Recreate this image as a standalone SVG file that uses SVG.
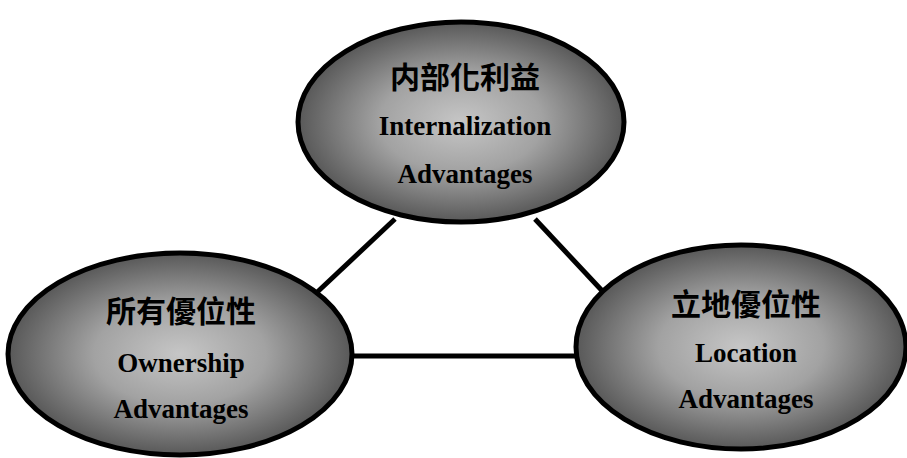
<svg xmlns="http://www.w3.org/2000/svg" width="907" height="458" viewBox="0 0 907 458">
  <style>
    .node ellipse { fill: url(#shade); stroke: #000; stroke-width: 5; }
    .zh { font-family: "Noto Sans CJK TC", "Noto Sans CJK SC", sans-serif; font-weight: bold; font-size: 30px; fill: #000; text-anchor: middle; }
    .en { font-family: "Times New Roman", Times, "Liberation Serif", Tinos, "DejaVu Serif", serif; font-weight: bold; font-size: 27px; fill: #000; text-anchor: middle; }
    .link line { stroke: #000; stroke-width: 5; }
  </style>
  <defs>
    <radialGradient id="shade" cx="0.5" cy="0.5" r="0.5">
      <stop offset="0" stop-color="#c6c6c6"/>
      <stop offset="0.5" stop-color="#a2a2a2"/>
      <stop offset="1" stop-color="#585858"/>
    </radialGradient>
  </defs>
  <rect width="907" height="458" fill="#fff"/>

  <g class="link" id="connectors">
    <line x1="395" y1="219" x2="312" y2="297"/>
    <line x1="535" y1="219" x2="607" y2="296"/>
    <line x1="352" y1="356" x2="577" y2="356"/>
  </g>

  <g class="node" id="internalization">
    <ellipse cx="461" cy="122" rx="163" ry="100"/>
    <text class="zh" x="465" y="88">内部化利益</text>
    <text class="en" x="465" y="135">Internalization</text>
    <text class="en" x="465" y="183">Advantages</text>
  </g>

  <g class="node" id="ownership">
    <ellipse cx="180" cy="354" rx="172" ry="101"/>
    <text class="zh" x="181" y="322">所有優位性</text>
    <text class="en" x="181" y="372">Ownership</text>
    <text class="en" x="181" y="418">Advantages</text>
  </g>

  <g class="node" id="location">
    <ellipse cx="741" cy="347" rx="165" ry="102"/>
    <text class="zh" x="746" y="315">立地優位性</text>
    <text class="en" x="746" y="362">Location</text>
    <text class="en" x="746" y="408">Advantages</text>
  </g>
</svg>
